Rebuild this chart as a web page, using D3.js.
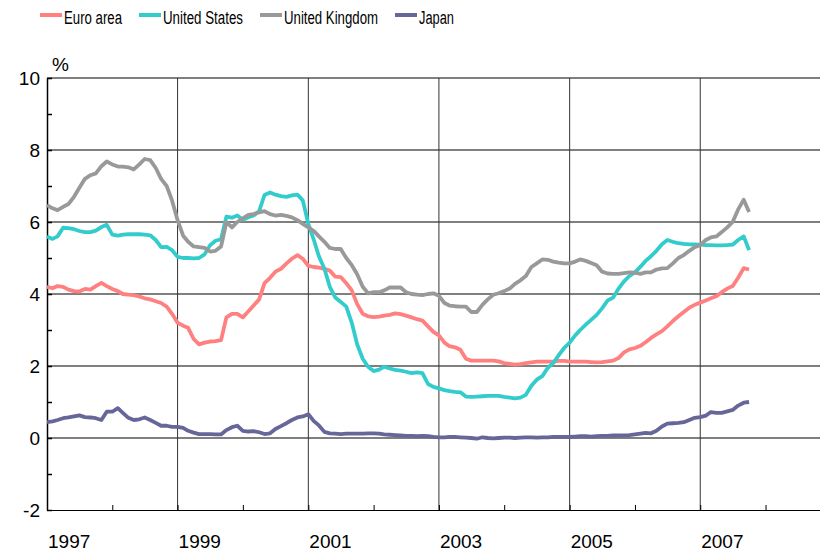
<!DOCTYPE html>
<html>
<head>
<meta charset="utf-8">
<script src="https://cdn.jsdelivr.net/npm/d3@7"></script>
<style>
  body { margin: 0; background: #fff; }
  svg text { font-family: "Liberation Sans", Arial, sans-serif; fill: #000; }
</style>
</head>
<body>
<div class="stage"></div>
<script>
// monthly values, Jan 1997 .. Oct 2007
var startMonth = new Date(1997, 0, 1)

var euroArea = [
  4.2, 4.16, 4.22, 4.2, 4.12, 4.08, 4.07, 4.14, 4.12, 4.22,
  4.31, 4.22, 4.14, 4.08, 4.0, 3.98, 3.97, 3.93, 3.88, 3.85,
  3.8, 3.75, 3.65, 3.45, 3.2, 3.12, 3.06, 2.75, 2.6, 2.65,
  2.68, 2.69, 2.72, 3.35, 3.45, 3.45, 3.35, 3.52, 3.68, 3.85,
  4.3, 4.45, 4.62, 4.7, 4.85, 4.98, 5.08, 4.98, 4.78, 4.75,
  4.73, 4.7, 4.65, 4.48, 4.47, 4.3, 4.1, 3.72, 3.45, 3.38,
  3.36, 3.37, 3.4, 3.42, 3.46, 3.44, 3.4, 3.35, 3.3, 3.26,
  3.1, 2.95, 2.85, 2.65, 2.55, 2.52, 2.45, 2.2, 2.15, 2.15,
  2.15, 2.15, 2.15, 2.13, 2.08, 2.06, 2.04, 2.05, 2.08, 2.1,
  2.12, 2.12, 2.12, 2.12, 2.14, 2.14, 2.12, 2.12, 2.12, 2.12,
  2.11, 2.1, 2.11, 2.13, 2.15, 2.22, 2.38, 2.46, 2.5, 2.56,
  2.66, 2.78, 2.88, 2.97, 3.1, 3.25, 3.38, 3.5, 3.62, 3.7,
  3.76, 3.82, 3.88, 3.94, 4.05, 4.15, 4.22, 4.45, 4.72, 4.68
]

var unitedStates = [
  5.6, 5.53, 5.6, 5.84, 5.83, 5.8, 5.75, 5.72, 5.72, 5.76,
  5.86, 5.92, 5.65, 5.62, 5.65, 5.66, 5.66, 5.66, 5.65, 5.63,
  5.5, 5.3, 5.31, 5.22, 5.03, 5.0, 5.0, 4.99, 5.0, 5.1,
  5.35, 5.48, 5.52, 6.15, 6.12, 6.18, 6.06, 6.13, 6.18, 6.3,
  6.75, 6.82, 6.76, 6.72, 6.7, 6.74, 6.76, 6.6, 5.95, 5.5,
  5.05, 4.7, 4.2, 3.9, 3.78, 3.65, 3.2, 2.6, 2.2, 1.98,
  1.86, 1.9, 1.98, 1.93, 1.89, 1.87, 1.84, 1.8, 1.82, 1.8,
  1.5, 1.42, 1.38, 1.33, 1.3, 1.28, 1.27, 1.15, 1.14, 1.15,
  1.16, 1.17, 1.17, 1.17, 1.14, 1.12, 1.1, 1.12, 1.2, 1.45,
  1.62, 1.72, 1.95, 2.08, 2.3, 2.5, 2.65, 2.85, 3.0, 3.15,
  3.28, 3.42, 3.6, 3.82, 3.9, 4.15, 4.35, 4.5, 4.6, 4.76,
  4.92, 5.05, 5.2, 5.38, 5.5, 5.45, 5.41, 5.39, 5.38, 5.38,
  5.37, 5.36, 5.36, 5.35, 5.35, 5.36, 5.37, 5.5, 5.6, 5.22
]

var unitedKingdom = [
  6.47, 6.38, 6.33, 6.42, 6.5, 6.7, 6.95, 7.2, 7.3, 7.35,
  7.55, 7.68, 7.6, 7.54, 7.54, 7.52, 7.46, 7.6, 7.75, 7.72,
  7.5, 7.2, 7.0, 6.6, 6.05, 5.62, 5.45, 5.32, 5.3, 5.28,
  5.18, 5.2, 5.32, 6.0, 5.85, 6.0, 6.1, 6.2, 6.22, 6.27,
  6.3, 6.22, 6.18, 6.2, 6.17, 6.13, 6.05, 5.95, 5.85, 5.75,
  5.6, 5.45, 5.28, 5.25, 5.25, 5.0, 4.8, 4.55, 4.2, 4.02,
  4.05, 4.05, 4.1, 4.18, 4.18, 4.18, 4.05, 4.0, 3.98, 3.97,
  4.0, 4.02, 3.95, 3.75, 3.68, 3.66, 3.65, 3.65, 3.5, 3.5,
  3.7, 3.85, 3.98, 4.02, 4.08, 4.15, 4.28, 4.38, 4.5, 4.75,
  4.85, 4.96, 4.95, 4.9, 4.87, 4.85, 4.85, 4.9, 4.96, 4.92,
  4.86, 4.8, 4.62, 4.57, 4.56, 4.56, 4.58, 4.6, 4.59, 4.56,
  4.6, 4.6, 4.68, 4.71, 4.72, 4.85, 5.0, 5.08, 5.2, 5.3,
  5.36, 5.5, 5.57, 5.6, 5.72, 5.85, 6.0, 6.35, 6.62, 6.28
]

var japan = [
  0.44, 0.46, 0.5, 0.55, 0.57, 0.6, 0.63, 0.58, 0.57, 0.55,
  0.5, 0.73, 0.73, 0.83, 0.7, 0.56, 0.5, 0.52, 0.57, 0.5,
  0.42, 0.34, 0.34, 0.31, 0.31, 0.28, 0.2, 0.15, 0.11, 0.11,
  0.11, 0.1, 0.1, 0.22, 0.3, 0.34, 0.2, 0.18, 0.19, 0.16,
  0.11, 0.13, 0.25, 0.33, 0.41, 0.5, 0.57, 0.6, 0.66, 0.47,
  0.35, 0.17, 0.13, 0.12, 0.11, 0.12, 0.12, 0.12, 0.12, 0.13,
  0.13, 0.12, 0.1, 0.09, 0.08, 0.07, 0.06, 0.06, 0.05, 0.06,
  0.05, 0.03, 0.02, 0.02, 0.03, 0.03, 0.02, 0.01, 0.0, -0.02,
  0.02, 0.0, -0.01, 0.0, 0.01, 0.01, 0.0, 0.01, 0.02, 0.02,
  0.01, 0.02, 0.02, 0.03, 0.03, 0.03, 0.03, 0.04, 0.05, 0.05,
  0.04, 0.05, 0.06, 0.06, 0.07, 0.07, 0.07, 0.08, 0.1, 0.12,
  0.14, 0.13, 0.2, 0.32, 0.4, 0.41, 0.42, 0.44, 0.5, 0.56,
  0.58, 0.62, 0.72, 0.7, 0.7, 0.74, 0.78, 0.9, 0.98, 1.0
]

var seriesNames = ["Euro area", "United States", "United Kingdom", "Japan"]
var seriesColors = ["#ff8080", "#33cccc", "#999999", "#666699"]
var seriesValues = [euroArea, unitedStates, unitedKingdom, japan]

var yLabelTicks = [-2, 0, 2, 4, 6, 8, 10]
var gridValues = [0, 2, 4, 6, 8, 10]
var gridYears = [1999, 2001, 2003, 2005, 2007]
var labelYears = [1997, 1999, 2001, 2003, 2005, 2007]

var width = 820, height = 553
var plotLeft = 47, plotTop = 78, plotBottom = 510, plotRight = 831

var svg = d3.select(".stage")
  .append("svg")
  .attr("width", width)
  .attr("height", height)

var x = d3.scaleTime()
  .domain([new Date(1997, 0, 1), new Date(2009, 0, 1)])
  .range([plotLeft, plotRight])

var y = d3.scaleLinear()
  .domain([-2, 10])
  .range([plotBottom, plotTop])

// horizontal grid (0..10)
svg.append("g")
  .selectAll("line")
  .data(gridValues)
  .enter().append("line")
  .attr("x1", plotLeft).attr("x2", plotRight)
  .attr("y1", function(d){ return y(d) })
  .attr("y2", function(d){ return y(d) })
  .attr("stroke", "#000")
  .attr("stroke-width", 1)

// vertical grid on odd years
svg.append("g")
  .selectAll("line")
  .data(gridYears)
  .enter().append("line")
  .attr("x1", function(d){ return x(new Date(d, 0, 1)) })
  .attr("x2", function(d){ return x(new Date(d, 0, 1)) })
  .attr("y1", plotTop).attr("y2", plotBottom)
  .attr("stroke", "#333")
  .attr("stroke-width", 1)

// bottom axis, small ticks on every year pointing up
var xAxis = d3.axisBottom(x)
  .ticks(d3.timeYear.every(1))
  .tickSizeInner(-5)
  .tickSizeOuter(0)
  .tickFormat("")

svg.append("g")
  .attr("transform", "translate(0," + plotBottom + ")")
  .call(xAxis)
  .call(function(g){
    g.select(".domain").attr("stroke", "#000").attr("stroke-width", 1.2)
    g.selectAll(".tick line").attr("stroke", "#000")
  })

svg.append("g")
  .selectAll("text")
  .data(labelYears)
  .enter().append("text")
  .attr("x", function(d){ return x(new Date(d, 0, 1)) + 1 })
  .attr("y", 548)
  .style("font-size", "19px")
  .text(function(d){ return d })

// left axis, inward ticks every unit
var yAxis = d3.axisRight(y)
  .ticks(12)
  .tickSizeInner(5)
  .tickSizeOuter(0)
  .tickFormat("")

svg.append("g")
  .attr("transform", "translate(" + plotLeft + ",0)")
  .call(yAxis)
  .call(function(g){
    g.select(".domain").attr("stroke", "#000").attr("stroke-width", 1.5)
    g.selectAll(".tick line").attr("stroke", "#000").attr("stroke-width", 1.5)
  })

svg.append("g")
  .selectAll("text")
  .data(yLabelTicks)
  .enter().append("text")
  .attr("x", 40)
  .attr("y", function(d){ return y(d) + 7 })
  .attr("text-anchor", "end")
  .style("font-size", "19px")
  .text(function(d){ return d })

svg.append("text")
  .attr("x", 52)
  .attr("y", 71)
  .style("font-size", "19px")
  .text("%")

// series lines
var line = d3.line()
  .x(function(d, i){ return x(d3.timeMonth.offset(startMonth, i)) })
  .y(function(d){ return y(d) })

seriesValues.forEach(function(vals, k){
  svg.append("path")
    .datum(vals)
    .attr("d", line)
    .attr("fill", "none")
    .attr("stroke", seriesColors[k])
    .attr("stroke-width", 3.8)
    .attr("stroke-linejoin", "round")
})

// legend (narrow type, like the original)
var legendX = [40, 139, 260, 395]
var legendWidth = [58, 80, 94, 35]
var legend = svg.append("g")
  .selectAll("g")
  .data(seriesNames)
  .enter().append("g")
  .attr("transform", function(d, i){ return "translate(" + legendX[i] + ",0)" })

legend.append("line")
  .attr("x1", 0).attr("x2", 22)
  .attr("y1", 15).attr("y2", 15)
  .attr("stroke", function(d, i){ return seriesColors[i] })
  .attr("stroke-width", 4)

legend.append("text")
  .attr("x", 24)
  .attr("y", 24)
  .style("font-size", "18px")
  .attr("textLength", function(d, i){ return legendWidth[i] })
  .attr("lengthAdjust", "spacingAndGlyphs")
  .text(function(d){ return d })
</script>
</body>
</html>
